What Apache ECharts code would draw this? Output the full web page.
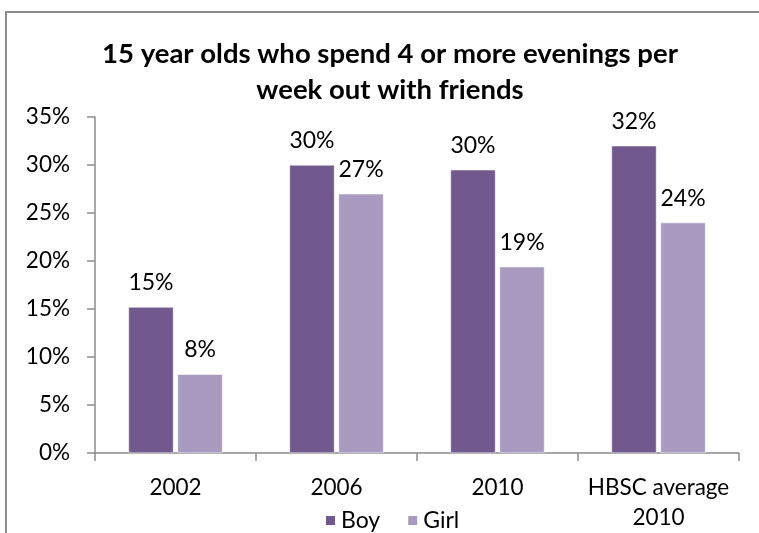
<!DOCTYPE html>
<html>
<head>
<meta charset="utf-8">
<script src="https://cdn.jsdelivr.net/npm/echarts@6/dist/echarts.min.js"></script>
<style>
  html, body { margin: 0; padding: 0; background: #fff; }
  #chart { width: 759px; height: 533px; }
</style>
</head>
<body>
<div id="chart"></div>
<script>
// Share of 15 year olds spending 4+ evenings a week out with friends (%)
const categories = ['2002', '2006', '2010', 'HBSC average\n2010'];
const boyValues = [15.2, 30.0, 29.5, 32.0];
const girlValues = [8.2, 27.0, 19.4, 24.0];
const yTicks = [0, 5, 10, 15, 20, 25, 30, 35];

const FONT = 'Lato, "Open Sans", "Noto Sans", sans-serif';
const BOY = '#71598E';
const GIRL = '#A99BC0';

const chart = echarts.init(document.getElementById('chart'), null, { renderer: 'canvas' });

const labelStyle = {
  show: true,
  position: 'top',
  distance: 13,
  color: '#000',
  fontFamily: FONT,
  fontSize: 23,
  formatter: p => Math.round(p.value) + '%'
};

chart.setOption({
  backgroundColor: '#fff',
  animation: false,
  title: {
    text: '15 year olds who spend 4 or more evenings per\nweek out with friends',
    left: 385,
    textAlign: 'center',
    top: 31,
    textStyle: {
      fontFamily: FONT,
      fontWeight: 'bold',
      fontSize: 27.5,
      lineHeight: 36,
      color: '#000'
    }
  },
  graphic: [{
    type: 'rect',
    shape: { x: 6, y: 12, width: 780, height: 560 },
    style: { fill: 'none', stroke: '#8c8c8c', lineWidth: 2 },
    silent: true,
    z: 100
  }],
  legend: {
    data: ['Boy', 'Girl'],
    left: 319,
    top: 504,
    itemWidth: 11,
    itemHeight: 11,
    itemGap: 26,
    icon: 'rect',
    textStyle: { fontFamily: FONT, fontSize: 23, color: '#000' }
  },
  grid: {
    left: 95,
    right: 20,
    top: 117,
    bottom: 80,
    containLabel: false
  },
  xAxis: {
    type: 'category',
    data: categories,
    axisLine: { lineStyle: { color: '#8c8c8c', width: 1.5 } },
    axisTick: { show: true, length: 8, alignWithLabel: false, lineStyle: { color: '#8c8c8c', width: 1.5 } },
    axisLabel: {
      color: '#000',
      fontFamily: FONT,
      fontSize: 22.5,
      lineHeight: 30,
      margin: 20,
      interval: 0
    }
  },
  yAxis: {
    type: 'value',
    min: yTicks[0],
    max: yTicks[yTicks.length - 1],
    interval: yTicks[1] - yTicks[0],
    axisLine: { show: true, lineStyle: { color: '#8c8c8c', width: 1.5 } },
    axisTick: { show: true, length: 8, inside: false, lineStyle: { color: '#8c8c8c', width: 1.5 } },
    splitLine: { show: false },
    axisLabel: {
      color: '#000',
      fontFamily: FONT,
      fontSize: 22.5,
      margin: 25,
      formatter: v => v + '%'
    }
  },
  series: [
    {
      name: 'Boy',
      type: 'bar',
      data: boyValues,
      barWidth: 45,
      barGap: '9%',
      itemStyle: { color: BOY, borderColor: '#fff', borderWidth: 0.5 },
      label: labelStyle
    },
    {
      name: 'Girl',
      type: 'bar',
      data: girlValues,
      barWidth: 45,
      itemStyle: { color: GIRL, borderColor: '#fff', borderWidth: 0.5 },
      label: labelStyle
    }
  ]
});
</script>
</body>
</html>
